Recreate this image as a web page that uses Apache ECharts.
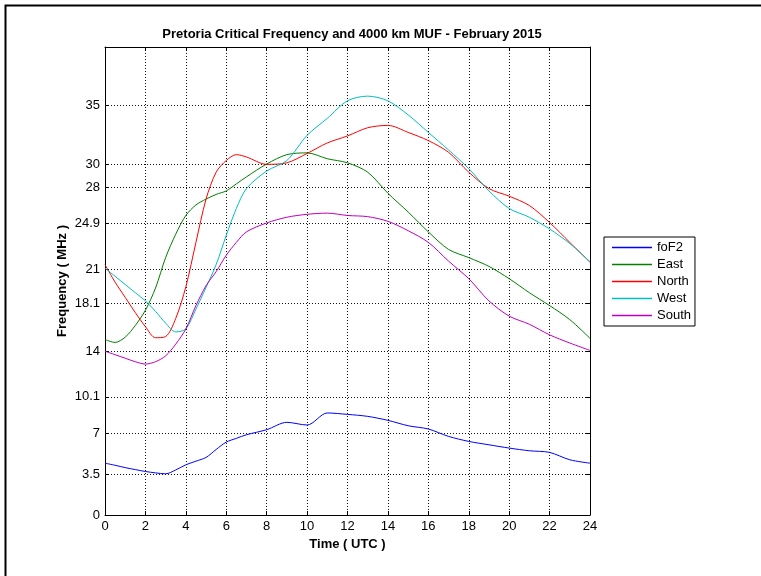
<!DOCTYPE html>
<html>
<head>
<meta charset="utf-8">
<script src="https://cdn.jsdelivr.net/npm/echarts@6/dist/echarts.min.js"></script>
<style>
  html, body { margin: 0; padding: 0; background: #fff; }
  #chart { width: 761px; height: 576px; }
</style>
</head>
<body>
<div id="chart"></div>
<script>
// UTC hours (half-hour steps early on, where the curves turn sharply)
var hours = [0, 0.5, 1, 1.5, 2, 2.5, 3, 3.5, 4, 4.5, 5, 5.5, 6, 6.5, 7,
  8, 9, 10, 11, 12, 13, 14, 15, 16, 17, 18, 19, 20, 21, 22, 23, 24];

var foF2 = [4.43, 4.25, 4.05, 3.88, 3.72, 3.6, 3.52, 3.85, 4.29, 4.6, 4.92, 5.6, 6.23, 6.55, 6.86,
  7.29, 7.92, 7.69, 8.72, 8.6, 8.43, 8.09, 7.63, 7.35, 6.72, 6.29, 6.0, 5.72, 5.49, 5.35, 4.72, 4.43];
var east = [15.0, 14.75, 15.2, 16.2, 17.5, 19.4, 22.0, 24.0, 25.6, 26.5, 27.0, 27.4, 27.7, 28.3, 28.9,
  30.0, 30.8, 30.95, 30.45, 30.1, 29.3, 27.5, 25.9, 24.2, 22.7, 22.0, 21.25, 20.2, 19.0, 17.9, 16.7, 15.1];
var north = [21.4, 19.9, 18.6, 17.3, 16.1, 15.15, 15.25, 16.8, 19.5, 23.3, 27.0, 29.3, 30.3, 30.8, 30.6,
  29.97, 30.1, 30.9, 31.8, 32.4, 33.1, 33.3, 32.7, 32.0, 31.0, 29.3, 27.9, 27.25, 26.45, 25.0, 23.3, 21.6];
var west = [21.1, 20.4, 19.7, 19.0, 18.3, 17.4, 16.4, 15.65, 15.9, 17.6, 19.45, 21.4, 23.9, 26.2, 27.9,
  29.4, 30.3, 32.45, 33.9, 35.4, 35.8, 35.4, 34.2, 32.7, 31.2, 29.6, 27.7, 26.2, 25.45, 24.45, 23.2, 21.65];
var south = [14.0, 13.7, 13.4, 13.1, 12.9, 13.1, 13.6, 14.6, 15.9, 17.9, 19.6, 20.8, 22.2, 23.3, 24.2,
  24.96, 25.45, 25.7, 25.8, 25.6, 25.5, 25.1, 24.3, 23.3, 21.7, 20.2, 18.3, 17.0, 16.3, 15.4, 14.7, 14.07];

var yTicks = [0, 3.5, 7, 10.1, 14, 18.1, 21, 24.9, 28, 30, 35];

var seriesNames = ['foF2', 'East', 'North', 'West', 'South'];
var seriesColors = ['#0000ff', '#008000', '#ff0000', '#00bfbf', '#bf00bf'];
var seriesValues = [foF2, east, north, west, south];

function pairs(vals) {
  return hours.map(function (h, i) { return [h, vals[i]]; });
}

var font = 'Liberation Sans, Arial, sans-serif';
var gridLine = { show: true, lineStyle: { color: '#111', type: [1, 2], width: 1 } };
var axisLine = { show: true, onZero: false, lineStyle: { color: '#000', width: 1 } };
var tick = { show: true, inside: true, length: 4, lineStyle: { color: '#000' } };
var nameStyle = { fontFamily: font, fontSize: 13, fontWeight: 'bold', color: '#000' };

var chart = echarts.init(document.getElementById('chart'), null, { renderer: 'canvas' });
chart.setOption({
  animation: false,
  backgroundColor: '#fff',
  title: {
    text: 'Pretoria Critical Frequency and 4000 km MUF - February 2015',
    left: 347, top: 23, textAlign: 'center',
    textStyle: nameStyle
  },
  graphic: [{
    type: 'rect', left: 3, top: 3, silent: true,
    shape: { x: 0, y: 0, width: 800, height: 620 },
    style: { fill: null, stroke: '#000', lineWidth: 2 }
  }],
  grid: { left: 105, right: 171, top: 47, bottom: 61 },
  legend: {
    orient: 'vertical', left: 604, top: 237,
    data: seriesNames,
    icon: 'rect', itemWidth: 40, itemHeight: 1.5, itemGap: 4,
    backgroundColor: '#fff', borderColor: '#000', borderWidth: 1,
    padding: [4, 4, 4, 8],
    textStyle: { fontFamily: font, fontSize: 13, color: '#000', lineHeight: 13 }
  },
  xAxis: [{
    type: 'value', min: 0, max: 24, interval: 2, position: 'bottom',
    name: 'Time ( UTC )', nameLocation: 'middle', nameGap: 21,
    nameTextStyle: nameStyle,
    axisLine: axisLine, axisTick: tick, splitLine: gridLine,
    axisLabel: { fontFamily: font, fontSize: 13, color: '#000', margin: 5 }
  }, {
    type: 'value', min: 0, max: 24, interval: 2, position: 'top',
    axisLine: axisLine, axisTick: tick, splitLine: { show: false },
    axisLabel: { show: false }
  }],
  yAxis: [{
    type: 'value', min: 0, max: 40, position: 'left',
    name: 'Frequency ( MHz )', nameLocation: 'middle', nameGap: 36, nameMoveOverlap: false,
    nameTextStyle: nameStyle,
    axisLine: axisLine,
    axisTick: { show: true, inside: true, length: 4, lineStyle: { color: '#000' }, customValues: yTicks },
    splitLine: gridLine,
    axisLabel: { fontFamily: font, fontSize: 13, color: '#000', margin: 5, customValues: yTicks }
  }, {
    type: 'value', min: 0, max: 40, position: 'right',
    axisLine: axisLine,
    axisTick: { show: true, inside: true, length: 4, lineStyle: { color: '#000' }, customValues: yTicks },
    splitLine: { show: false },
    axisLabel: { show: false, customValues: yTicks }
  }],
  series: seriesNames.map(function (name, i) {
    return {
      name: name, type: 'line', xAxisIndex: 0, yAxisIndex: 0,
      data: pairs(seriesValues[i]),
      smooth: 0.3, showSymbol: false, symbol: 'none',
      color: seriesColors[i],
      lineStyle: { width: 1, color: seriesColors[i] }
    };
  })
});
</script>
</body>
</html>
